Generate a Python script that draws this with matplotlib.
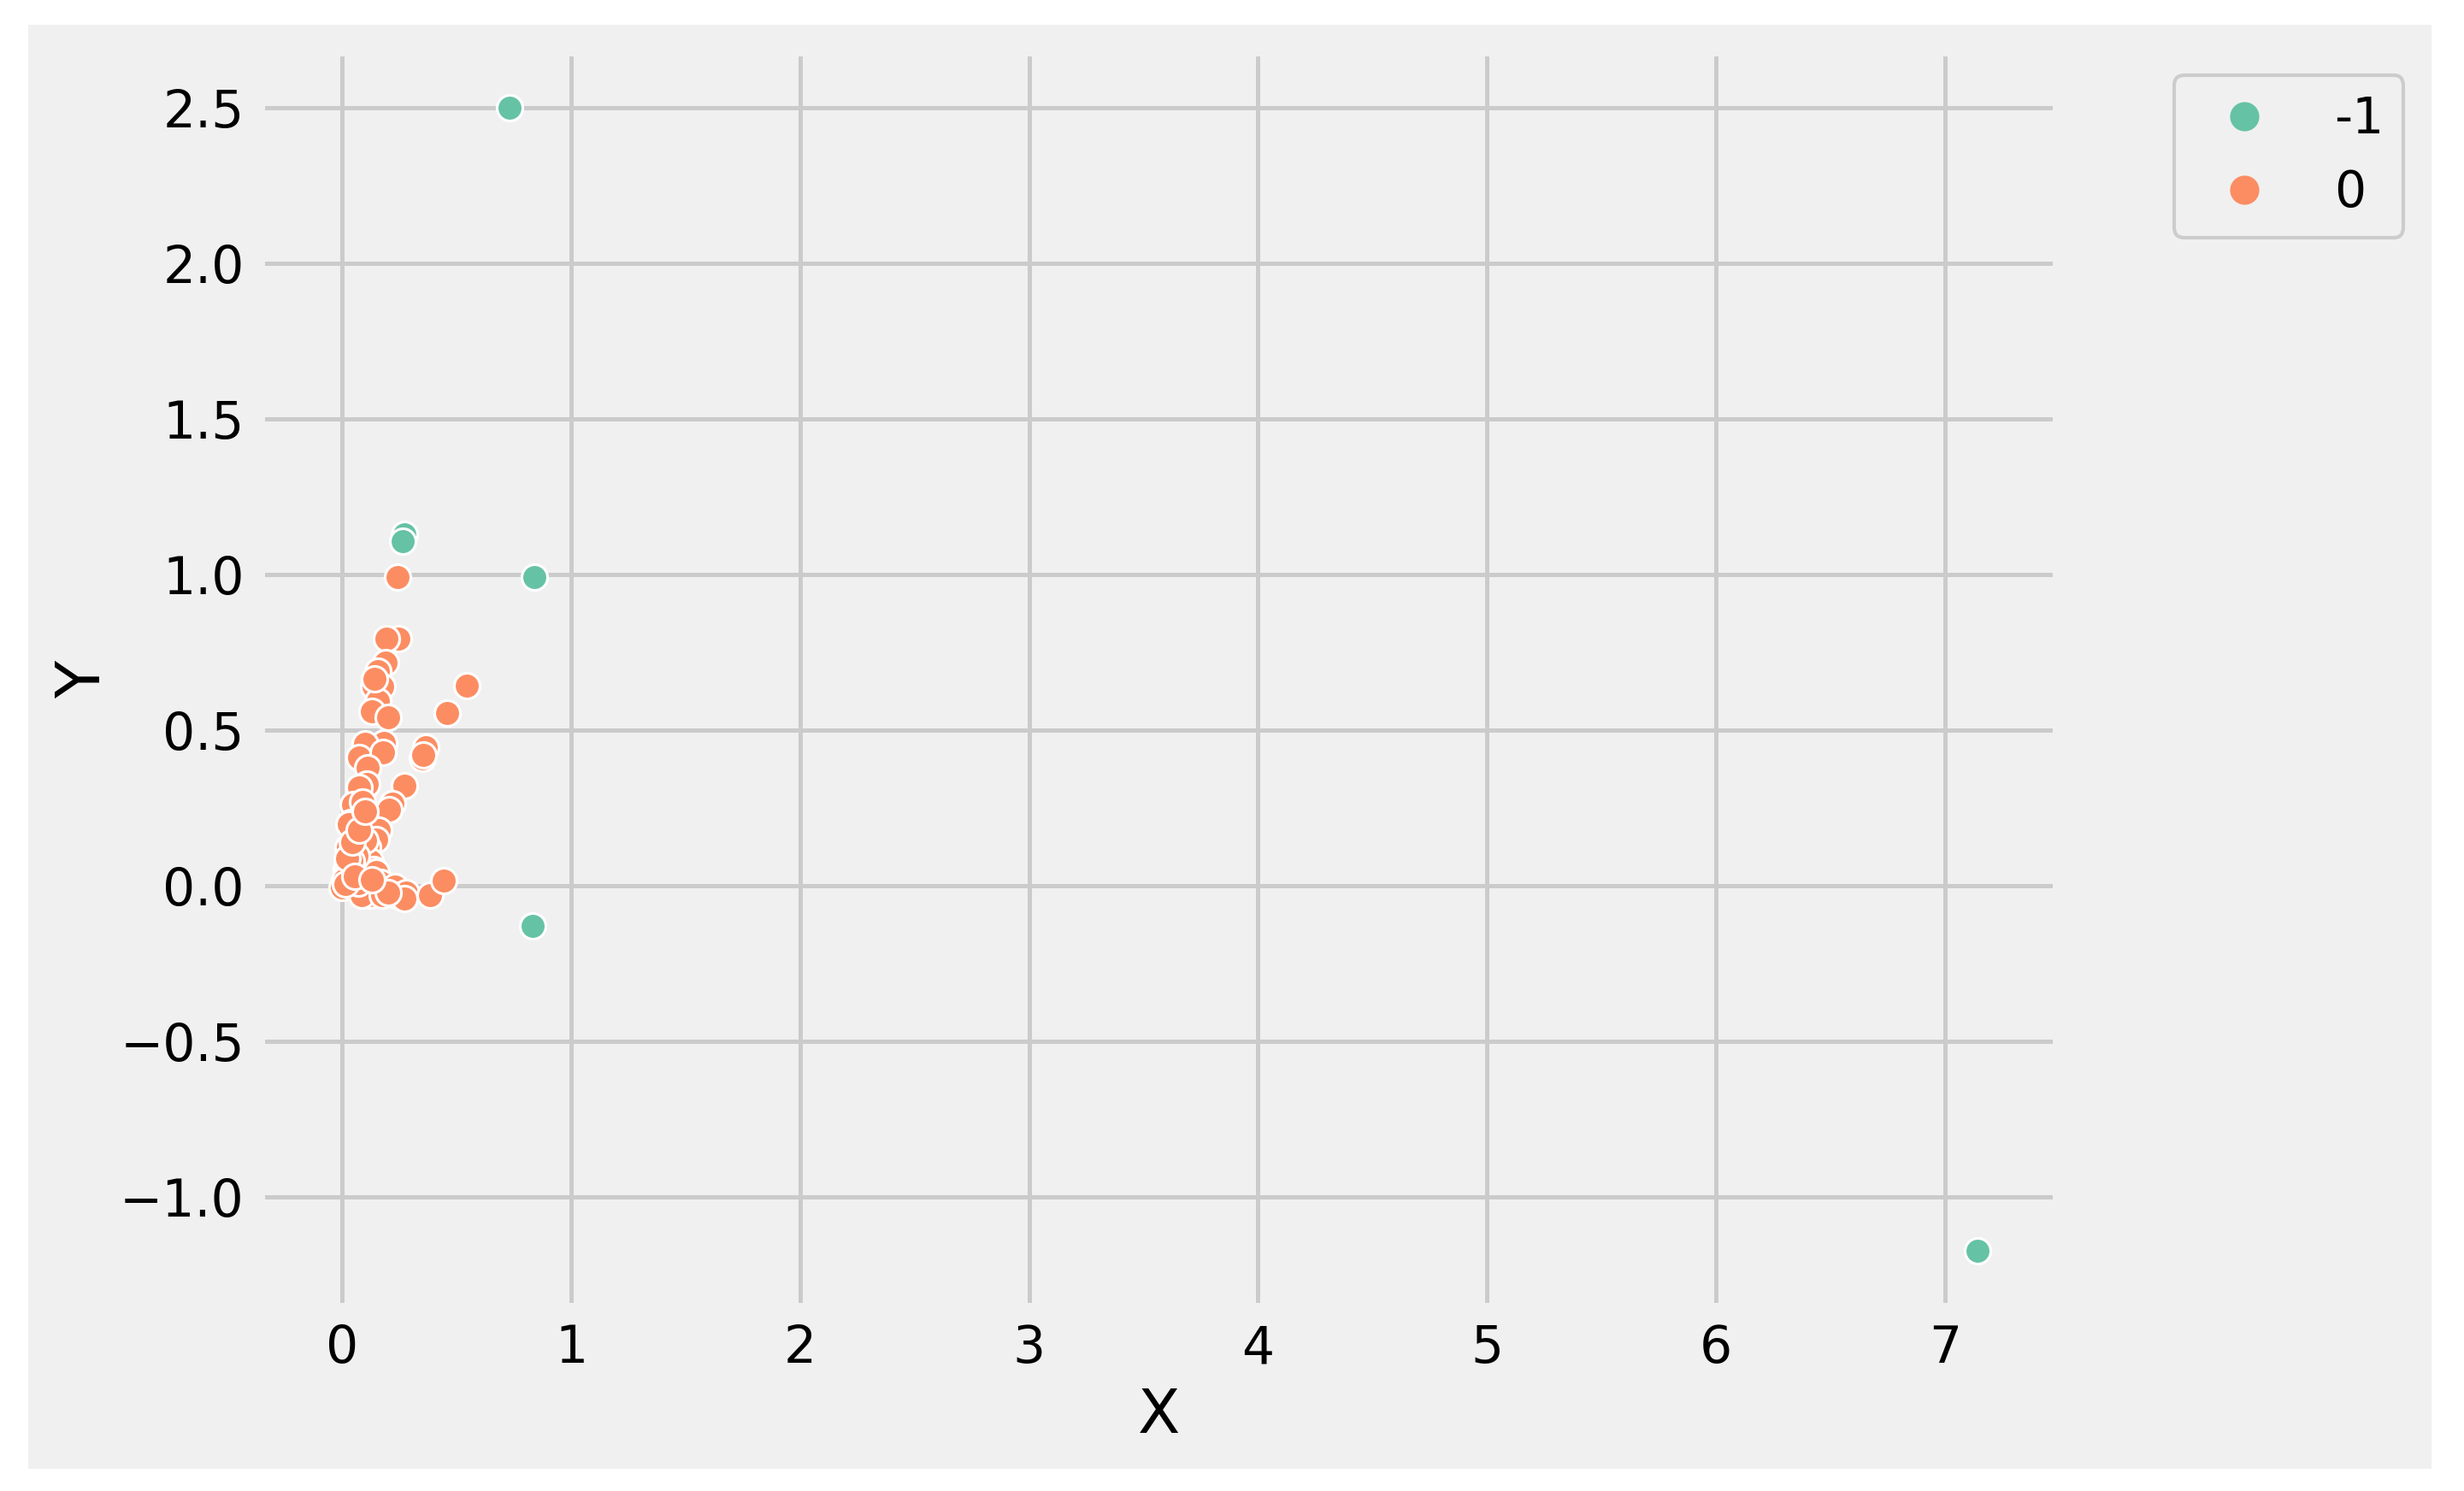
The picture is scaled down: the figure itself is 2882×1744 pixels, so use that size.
import numpy as np
import matplotlib
matplotlib.use("Agg")
import matplotlib.pyplot as plt
from matplotlib.lines import Line2D
from matplotlib.patches import Rectangle

# =============================================
#                    DATOS
# =============================================

# cluster -1 (outliers)
x_out = [0.731, 0.273, 0.264, 0.839, 0.832, 7.141]
y_out = [2.500, 1.130, 1.107, 0.994, -0.127, -1.172]

# cluster 0
x_in = [0.242, 0.245, 0.192, 0.189, 0.543, 0.459, 0.155, 0.136, 0.173, 0.155,
        0.130, 0.200, 0.181, 0.366, 0.350, 0.099, 0.074, 0.179, 0.354, 0.112,
        0.108, 0.074, 0.273, 0.219, 0.204, 0.084, 0.049, 0.036, 0.161, 0.148,
        0.024, 0.061, 0.111, 0.123, 0.018, 0.049, 0.086, 0.136, 0.148, 0.000,
        0.061, 0.111, 0.123, 0.167, 0.229, 0.235, 0.279, 0.273, 0.385, 0.443,
        0.086, 0.173, 0.069, 0.030, 0.099, 0.030, 0.064, 0.010, 0.040, 0.015,
        0.200, 0.140, 0.090, 0.020, 0.045, 0.075, 0.100, 0.055, 0.130]
y_in = [0.993, 0.796, 0.796, 0.718, 0.645, 0.555, 0.690, 0.640, 0.640, 0.594,
        0.562, 0.541, 0.459, 0.446, 0.411, 0.458, 0.414, 0.430, 0.420, 0.379,
        0.329, 0.317, 0.322, 0.265, 0.246, 0.224, 0.262, 0.205, 0.180, 0.150,
        0.125, 0.155, 0.125, 0.081, 0.054, 0.046, 0.037, 0.054, 0.045, -0.004,
        0.000, -0.010, -0.030, 0.012, -0.002, -0.030, -0.020, -0.040, -0.029, 0.018,
        -0.030, -0.030, 0.010, 0.054, 0.146, 0.200, 0.098, 0.020, 0.080, 0.005,
        -0.020, 0.665, 0.270, 0.090, 0.140, 0.180, 0.240, 0.030, 0.020]

labels = ["-1", "0"]
colors = ["#66c2a5", "#fc8d62"]

# =============================================
#                    PLOT
# =============================================

bg = "#f0f0f0"
plt.rcParams["font.family"] = "DejaVu Sans"
plt.rcParams["font.size"] = 14.4

fig = plt.figure(figsize=(2882 / 300, 1744 / 300), dpi=300, facecolor="white")
fig.patches.append(Rectangle((33 / 2882, 1 - 1718 / 1744), (2844 - 33) / 2882,
                             (1718 - 29) / 1744, transform=fig.transFigure,
                             facecolor=bg, edgecolor="none", zorder=-10))

ax = fig.add_axes([310 / 2882, 1 - 1524 / 1744, (2401 - 310) / 2882, (1524 - 66) / 1744])
ax.set_facecolor(bg)
for s in ax.spines.values():
    s.set_visible(False)
ax.set_axisbelow(True)
ax.grid(True, color="#cbcbcb", linewidth=1.2)

ax.scatter(x_out, y_out, s=52, c=colors[0], edgecolors="white", linewidths=0.75)
ax.scatter(x_in, y_in, s=52, c=colors[1], edgecolors="white", linewidths=0.75)

ax.set_xlim(-0.337, 7.471)
ax.set_ylim(-1.340, 2.666)
ax.set_xticks(np.arange(0, 8, 1))
ax.set_yticks(np.arange(-1.0, 2.51, 0.5))
ax.tick_params(length=0, pad=5.8, labelsize=14.4)

ax.set_xlabel("X", fontsize=17.3, labelpad=3.6)
ax.set_ylabel("Y", fontsize=17.3, labelpad=2)

handles = [Line2D([], [], marker="o", linestyle="", markersize=7.2,
                  markerfacecolor=c, markeredgecolor=c) for c in colors]
leg = ax.legend(handles, labels, loc="upper left", bbox_to_anchor=(1.068, 0.985),
                borderaxespad=0, fontsize=14, fancybox=True, framealpha=1)
leg.get_frame().set_facecolor(bg)
leg.get_frame().set_edgecolor("#cccccc")

fig.savefig("out.png", dpi=300, facecolor="white")
